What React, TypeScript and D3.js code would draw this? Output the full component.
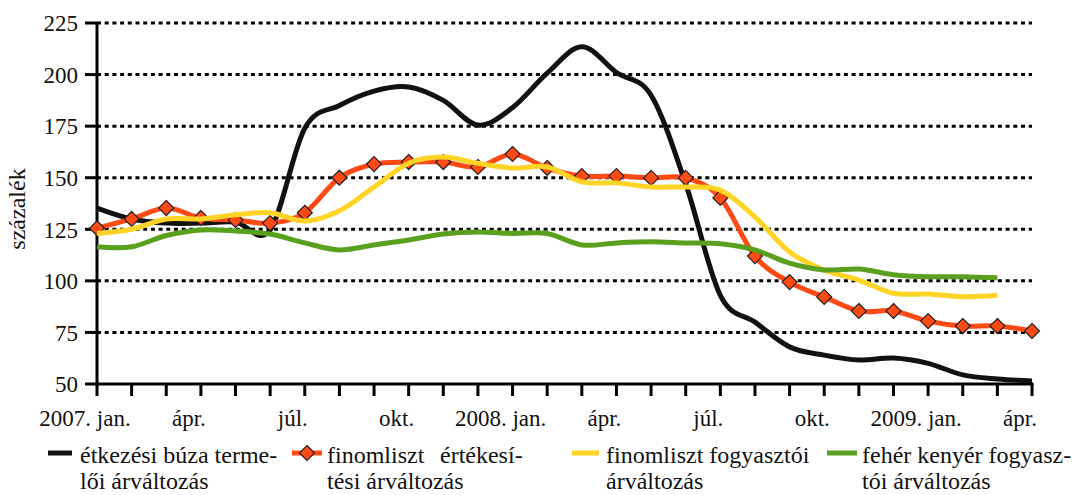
import React from 'react';
import * as d3 from 'd3';

const months = [
  '2007. jan.', 'febr.', 'márc.', 'ápr.', 'máj.', 'jún.', 'júl.', 'aug.', 'szept.', 'okt.', 'nov.', 'dec.',
  '2008. jan.', 'febr.', 'márc.', 'ápr.', 'máj.', 'jún.', 'júl.', 'aug.', 'szept.', 'okt.', 'nov.', 'dec.',
  '2009. jan.', 'febr.', 'márc.', 'ápr.',
];
const labelEvery = 3;
const yTicks = [50, 75, 100, 125, 150, 175, 200, 225];

const wheatProducer = [135.3, 130, 128, 128, 128.5, 124.6, 174, 185, 192, 194, 187.5, 175.5, 184, 200.7, 213.5, 201, 190, 147, 93, 80, 68, 64, 61.6, 62.6, 60, 54.4, 52.4, 51.5];
const flourSales = [125.5, 130, 135.3, 130.5, 129.5, 128, 133, 150, 156.6, 157.6, 157.6, 155.2, 161.5, 154.7, 150.8, 150.8, 149.9, 149.9, 140.2, 112, 99.4, 92.2, 85.4, 85.4, 80.5, 78.1, 78.1, 75.7];
const flourConsumer = [123, 125, 130, 130, 132, 133, 129, 134, 145.5, 157, 160, 157, 154.7, 155.2, 148, 147.5, 145.5, 145.5, 144, 131, 114, 105.3, 100.4, 94, 93.6, 92.3, 93];
const breadConsumer = [116.5, 116.5, 122, 124.7, 124.2, 122.7, 118.4, 115, 117.4, 119.8, 122.7, 123.7, 123, 123, 117.4, 118.4, 118.9, 118.4, 118, 115, 108.6, 105.3, 105.7, 103, 102, 102, 101.5];

const seriesNames = [
  ['étkezési búza terme-', 'lői árváltozás'],
  ['finomliszt', 'értékesí-', 'tési árváltozás'],
  ['finomliszt fogyasztói', 'árváltozás'],
  ['fehér kenyér fogyasz-', 'tói árváltozás'],
];

const FONT = "'Liberation Serif', 'DejaVu Serif', serif";
const C_BLACK = '#111111';
const C_ORANGE = '#FF4A14';
const C_YELLOW = '#FFD426';
const C_GREEN = '#58A01E';

export default function App() {
  const W = 1088, H = 495;
  const left = 97, right = 1032, top = 23, bottom = 384;
  const x = d3.scaleLinear().domain([0, months.length - 1]).range([left, right]);
  const y = d3.scaleLinear().domain([50, 225]).range([bottom, top]);
  const line = d3.line<number>().x((_, i) => x(i)).y(d => y(d)).curve(d3.curveCardinal.tension(0));

  const diamond = (cx: number, cy: number, r: number) => `M${cx},${cy - r}L${cx + r},${cy}L${cx},${cy + r}L${cx - r},${cy}Z`;

  return (
    <svg width={W} height={H} style={{ position: 'absolute', left: 0, top: 0, background: '#fff', fontFamily: FONT }}>
      {yTicks.filter(t => t > 50).map(t => (
        <line key={t} x1={left} x2={right} y1={y(t)} y2={y(t)} stroke="#000" strokeWidth={3} strokeDasharray="4 3.7" />
      ))}
      <line x1={left} x2={left} y1={top - 1} y2={bottom + 1.5} stroke="#000" strokeWidth={3} />
      {yTicks.map(t => (
        <g key={t}>
          <line x1={left - 12} x2={left} y1={y(t)} y2={y(t)} stroke="#000" strokeWidth={3} />
          <text x={78} y={y(t)} dy="0.36em" textAnchor="end" fontSize={23} fill="#111">{t}</text>
        </g>
      ))}
      <text transform={`translate(25,209) rotate(-90)`} textAnchor="middle" fontSize={24} fill="#111">százalék</text>
      <line x1={left - 1.5} x2={right + 1.5} y1={bottom} y2={bottom} stroke="#000" strokeWidth={3} />
      {months.map((m, i) => (
        <line key={i} x1={x(i)} x2={x(i)} y1={bottom} y2={bottom + 12} stroke="#000" strokeWidth={3} />
      ))}
      {months.map((m, i) => i % labelEvery === 0 ? (
        <text key={'l' + i} x={x(i) - 12} y={426} textAnchor="middle" fontSize={23} fill="#111">{m}</text>
      ) : null)}
      <path d={line(wheatProducer) || ''} fill="none" stroke={C_BLACK} strokeWidth={5} />
      <path d={line(flourSales) || ''} fill="none" stroke={C_ORANGE} strokeWidth={5} />
      {flourSales.map((v, i) => (
        <path key={'m' + i} d={diamond(x(i), y(v), 7.5)} fill={C_ORANGE} stroke="#222" strokeWidth={1.2} />
      ))}
      <path d={line(flourConsumer) || ''} fill="none" stroke={C_YELLOW} strokeWidth={5} />
      <path d={line(breadConsumer) || ''} fill="none" stroke={C_GREEN} strokeWidth={5} />
      <g fontSize={24} fill="#111">
        <line x1={48} x2={72} y1={453} y2={453} stroke={C_BLACK} strokeWidth={5} />
        <text x={80} y={463}>{seriesNames[0][0]}</text>
        <text x={80} y={489}>{seriesNames[0][1]}</text>

        <line x1={292} x2={322} y1={453} y2={453} stroke={C_ORANGE} strokeWidth={5} />
        <path d={diamond(307, 453, 7.5)} fill={C_ORANGE} stroke="#222" strokeWidth={1.2} />
        <text x={327} y={463}>{seriesNames[1][0]}</text>
        <text x={440} y={463}>{seriesNames[1][1]}</text>
        <text x={327} y={489}>{seriesNames[1][2]}</text>

        <line x1={572} x2={599} y1={453} y2={453} stroke={C_YELLOW} strokeWidth={5} />
        <text x={606} y={463}>{seriesNames[2][0]}</text>
        <text x={606} y={489}>{seriesNames[2][1]}</text>

        <line x1={827} x2={857} y1={453} y2={453} stroke={C_GREEN} strokeWidth={5} />
        <text x={862} y={463}>{seriesNames[3][0]}</text>
        <text x={862} y={489}>{seriesNames[3][1]}</text>
      </g>
    </svg>
  );
}
